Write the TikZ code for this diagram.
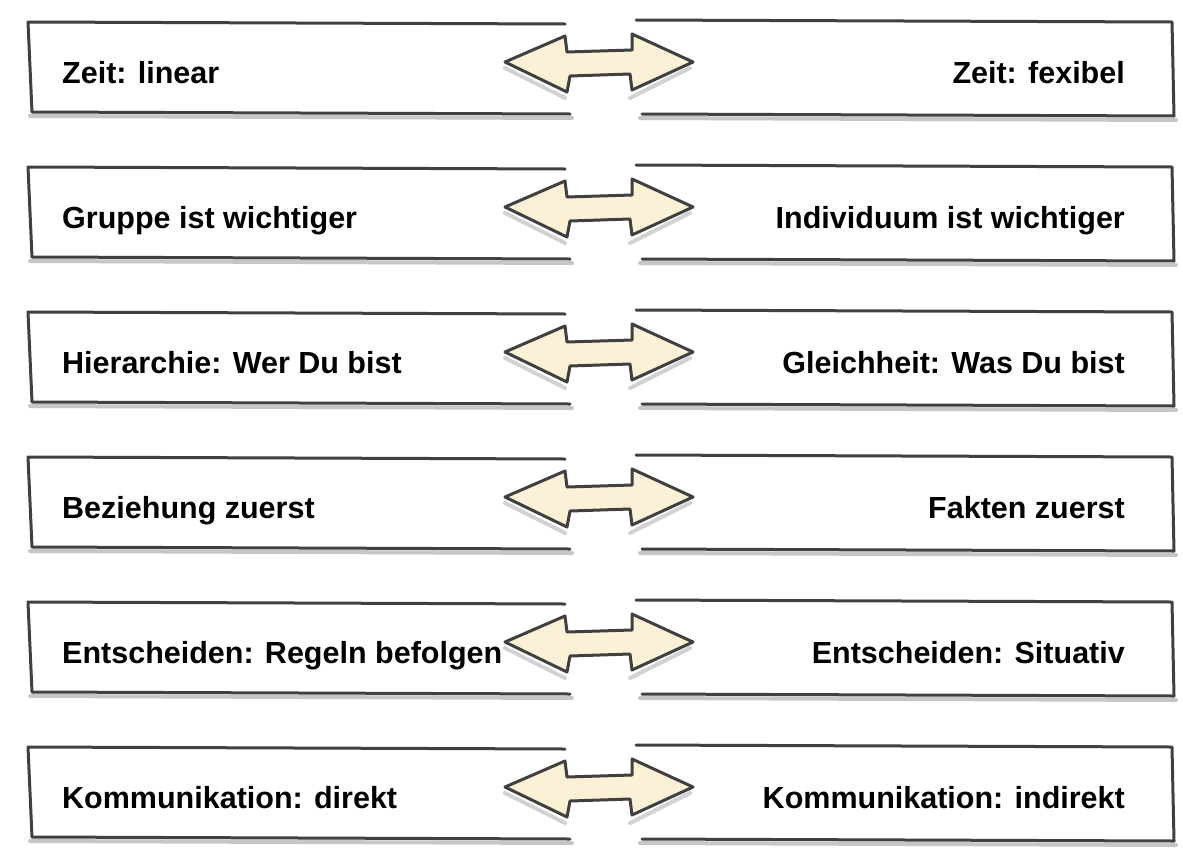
\documentclass[tikz,border=0pt]{standalone}
\usepackage{fontspec}
\setmainfont{Liberation Sans}
\definecolor{arrfill}{RGB}{252,240,215}
\tikzset{x=1pt,y=-1pt,
 boxline/.style={draw=black!75,line width=3pt,line cap=round,line join=round},
 shadowline/.style={draw=gray!45,line width=4pt,line cap=round},
 lab/.style={font=\fontsize{30.5}{34}\selectfont\bfseries,text=black,inner sep=0pt},
 arr/.style={fill=arrfill,draw=black!75,line width=3pt,line join=round}}
\begin{document}
\begin{tikzpicture}
\useasboundingbox[fill=white] (0,0) rectangle (1183,854);
\foreach \t/\L/\R [count=\i] in {20/Zeit: linear/Zeit: fexibel,
 165/Gruppe ist wichtiger/Individuum ist wichtiger,
 310/Hierarchie: Wer Du bist/Gleichheit: Was Du bist,
 455/Beziehung zuerst/Fakten zuerst,
 600/Entscheiden: Regeln befolgen/Entscheiden: Situativ,
 745/Kommunikation: direkt/Kommunikation: indirekt}{
 \pgfmathsetmacro\b{\t+92}
 \draw[shadowline] (30,\b+4) -- (572,\b+6);
 \draw[shadowline] (640,\b+6) -- (1176,\b+8);
 \draw[boxline] (565,\t+4) -- (28,\t+2) -- (32,\b) -- (570,\b+2);
 \draw[boxline] (636,\t) -- (1172,\t+2) -- (1174,\b+4) -- (642,\b+2);
 \node[lab,anchor=base west] (l\i) at (62,\t+63) {\L};
 \node[lab,anchor=base east] (r\i) at (1125,\t+63) {\R};
 \pgfmathsetmacro\c{\t+42}
 \draw[shadowline,draw=gray!35] (505,\c+6) -- (565,\c+36) (630,\c+36) -- (690,\c+6);
 \draw[arr] (505,\c) -- (565,\c-26) -- (567,\c-10) -- (632,\c-12) -- (632,\c-28) -- (693,\c) -- (632,\c+28) -- (630,\c+12) -- (570,\c+14) -- (567,\c+30) -- cycle;
 \coordinate (a\i) at (600,\c);
}
\end{tikzpicture}
\end{document}
